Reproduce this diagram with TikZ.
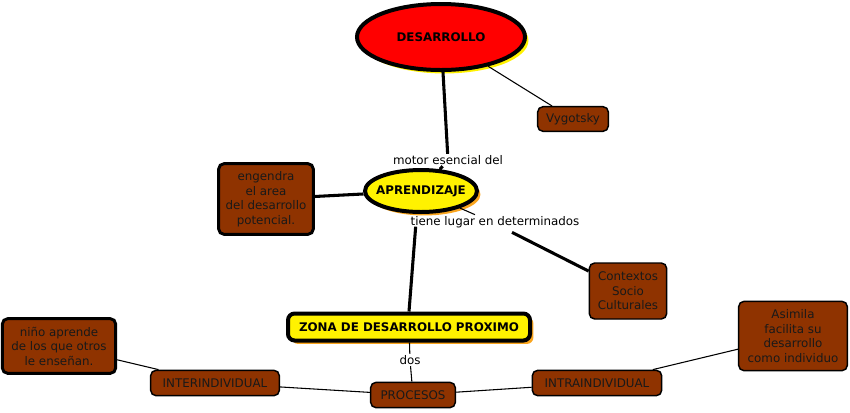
\documentclass[tikz,border=0pt]{standalone}
\usepackage{fontspec}
\setmainfont{DejaVu Sans}
\usetikzlibrary{shapes.geometric,shadows}
\definecolor{cmapbrown}{RGB}{143,51,0}
\definecolor{cmaporange}{RGB}{250,165,30}

\begin{document}
\begin{tikzpicture}[
  x=0.75pt, y=-0.75pt,
  font=\fontsize{8.9}{10.9}\selectfont,
  every node/.style={align=center},
  concept/.style ={rectangle, rounded corners=4pt, draw=black, line width=1.1pt,
                   fill=cmapbrown, text=black!90, inner sep=1pt},
  conceptb/.style={concept, line width=2.2pt},
  main/.style    ={ellipse, draw=black, line width=3pt, inner sep=0pt,
                   font=\bfseries\fontsize{8.9}{10}\selectfont},
  zone/.style    ={rectangle, rounded corners=5pt, draw=black, line width=3pt,
                   fill=yellow, inner sep=0pt, font=\bfseries\fontsize{8.9}{10}\selectfont},
  shade/.style   ={drop shadow={shadow xshift=2.6pt, shadow yshift=-2.6pt,
                   fill=#1, opacity=1}},
  link/.style    ={inner sep=1pt},
  edge/.style    ={draw=black, line width=0.8pt},
  edge-t/.style  ={draw=black, line width=2.3pt},
]
\useasboundingbox (0,0) rectangle (850,412);

% --- Conceptos principales ---
\node[main, shade=yellow, fill=red, minimum width=126pt, minimum height=49.5pt]
  (des) at (441,37) {DESARROLLO};
\node[main, shade=cmaporange, fill=yellow, inner xsep=-4pt,
      minimum width=84pt, minimum height=31.5pt]
  (apr) at (421,191) {APRENDIZAJE};
\node[zone, shade=cmaporange, minimum width=181.5pt, minimum height=20.25pt]
  (zona) at (409,327) {ZONA DE DESARROLLO PROXIMO};

% --- Conceptos secundarios ---
\node[concept, minimum width=53pt, minimum height=18.5pt]  (vyg)   at (573,119) {Vygotsky};
\node[conceptb, minimum width=71pt, minimum height=53pt]   (eng)   at (266,199)
  {engendra\\el area\\del desarrollo\\potencial.};
\node[concept, minimum width=58pt, minimum height=42pt]    (ctx)   at (628,291)
  {Contextos\\Socio\\Culturales};
\node[concept, minimum width=63.5pt, minimum height=19pt]  (proc)  at (413,395) {PROCESOS};
\node[concept, minimum width=96.5pt, minimum height=19pt]  (inter) at (215,383) {INTERINDIVIDUAL};
\node[concept, minimum width=97pt, minimum height=19pt]    (intra) at (597,383) {INTRAINDIVIDUAL};
\node[conceptb, minimum width=85pt, minimum height=41pt]   (nino)  at (59,346)
  {niño aprende\\de los que otros\\le enseñan.};
\node[concept, minimum width=81.5pt, minimum height=52pt]  (asim)  at (793,336)
  {Asimila\\facilita su\\desarrollo\\como individuo};

% --- Frases de enlace ---
\node[link] (motor) at (448,160) {motor esencial del};
\node[link] (tiene) at (495,222) {tiene lugar en determinados};
\node[link] (dos)   at (410,360) {dos};

% --- Enlaces ---
\draw[edge]   (des) -- (vyg);
\draw[edge-t] (motor) -- (des);
\draw[edge-t] (apr) -- (motor);
\draw[edge-t] (eng) -- (apr);
\draw[edge]   (apr) -- ([xshift=-15pt]tiene.north);
\draw[edge-t] ([xshift=12.75pt,yshift=-2.25pt]tiene.south) -- (ctx);
\draw[edge-t] ([xshift=5pt,yshift=2pt]tiene.south west) -- (zona.north);
\draw[edge]   (zona) -- (dos);
\draw[edge]   (dos) -- (proc);
\draw[edge]   (nino) -- (inter);
\draw[edge]   (inter) -- (proc);
\draw[edge]   (proc) -- (intra);
\draw[edge]   (intra) -- (asim);

\end{tikzpicture}
\end{document}
